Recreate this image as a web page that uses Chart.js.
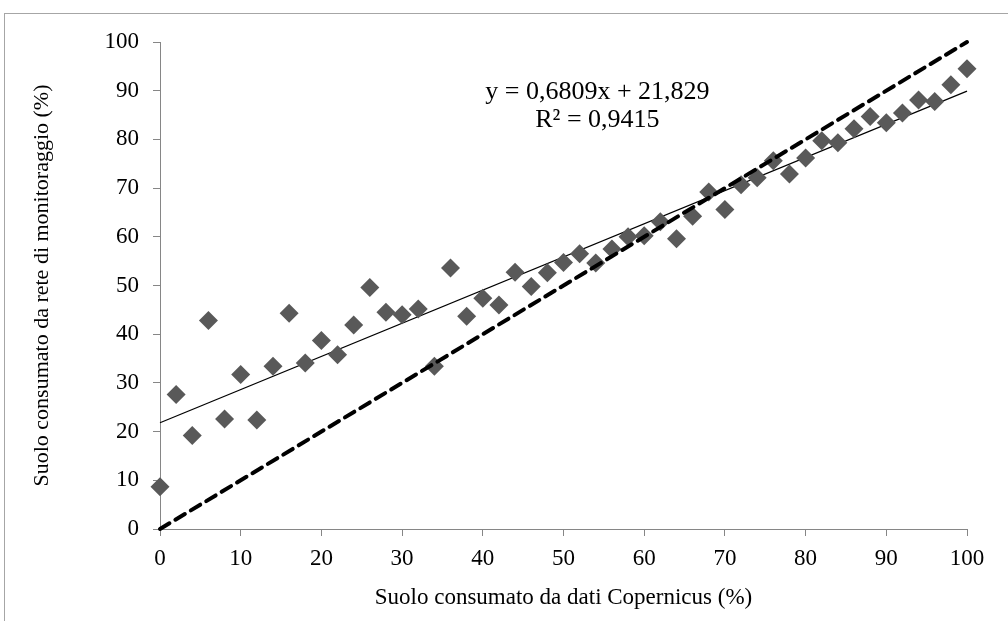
<!DOCTYPE html>
<html>
<head>
<meta charset="utf-8">
<script src="https://cdn.jsdelivr.net/npm/chart.js@4.4.0/dist/chart.umd.min.js"></script>
<style>
  html, body { margin: 0; padding: 0; background: #fff; overflow: hidden; }
  #frame {
    position: absolute; left: 4px; top: 13px;
    width: 1100px; height: 700px;
    border: 1px solid #a6a6a6;
  }
  #wrap { position: absolute; left: 0; top: 0; width: 1008px; height: 621px; }
</style>
</head>
<body>
<div id="frame"></div>
<div id="wrap"><canvas id="chart"></canvas></div>
<script>
// Copernicus (x) vs monitoring network (y), % soil consumed
const copernicus = [0, 2, 4, 6, 8, 10, 12, 14, 16, 18, 20, 22, 24, 26, 28, 30, 32, 34, 36, 38, 40,
    42, 44, 46, 48, 50, 52, 54, 56, 58, 60, 62, 64, 66, 68, 70, 72, 74, 76, 78, 80,
    82, 84, 86, 88, 90, 92, 94, 96, 98, 100];
const monitoraggio = [8.7, 27.6, 19.2, 42.8, 22.6, 31.7, 22.4, 33.4, 44.3, 34.1, 38.7, 35.8, 41.9, 49.6, 44.5, 44.0, 45.2, 33.4, 53.6, 43.7, 47.4,
    46.0, 52.7, 49.8, 52.6, 54.7, 56.5, 54.6, 57.5, 60.0, 60.2, 63.1, 59.6, 64.2, 69.2, 65.6, 70.7, 72.1, 75.6, 72.9, 76.2,
    79.7, 79.3, 82.2, 84.7, 83.4, 85.4, 88.1, 87.8, 91.2, 94.5];

// linear trend (y = 0,6809x + 21,829) end points and the 1:1 line
const trendX = [0, 100];
const trendY = [21.829, 89.919];
const bisX = [0, 100];
const bisY = [0, 100];

const xTicks = [0, 10, 20, 30, 40, 50, 60, 70, 80, 90, 100];
const yTicks = [0, 10, 20, 30, 40, 50, 60, 70, 80, 90, 100];

const equationLines = ["y = 0,6809x + 21,829", "R\u00b2 = 0,9415"];
const equationAt = { x: 54.2, y: [89.8, 84.0] };

const FONT = "'Liberation Serif', 'Times New Roman', serif";
const AXIS_GREY = "#868686";

const toPts = (xs, ys) => xs.map((x, i) => ({ x: x, y: ys[i] }));

// ─── EQUATION LABEL ──────────────────────────────────────────
const equationPlugin = {
    id: "equation",
    afterDatasetsDraw(chart) {
        const { ctx, scales } = chart;
        ctx.save();
        ctx.fillStyle = "#000";
        ctx.font = "26px " + FONT;
        ctx.textAlign = "center";
        ctx.textBaseline = "middle";
        equationLines.forEach((t, i) => {
            ctx.fillText(t, scales.x.getPixelForValue(equationAt.x), scales.y.getPixelForValue(equationAt.y[i]));
        });
        ctx.restore();
    }
};

const ctx = document.getElementById("chart").getContext("2d");
new Chart(ctx, {
    type: "scatter",
    data: {
        datasets: [
            {
                label: "Dati",
                data: toPts(copernicus, monitoraggio),
                pointStyle: "rectRot",
                pointRadius: 9.5,
                pointHoverRadius: 9.5,
                backgroundColor: "#595959",
                borderColor: "#595959",
                borderWidth: 0,
                clip: false,
                order: 1
            },
            {
                type: "line",
                label: "Tendenza",
                data: toPts(trendX, trendY),
                borderColor: "#000",
                borderWidth: 1.2,
                pointRadius: 0,
                fill: false,
                clip: false,
                order: 2
            },
            {
                type: "line",
                label: "1:1",
                data: toPts(bisX, bisY),
                borderColor: "#000",
                borderWidth: 4,
                borderDash: [11, 7],
                borderCapStyle: "round",
                pointRadius: 0,
                fill: false,
                clip: false,
                order: 0
            }
        ]
    },
    options: {
        responsive: true,
        maintainAspectRatio: false,
        animation: false,
        layout: { padding: { top: 42, right: 41, bottom: 0, left: 0 } },
        plugins: {
            legend: { display: false },
            tooltip: { enabled: false }
        },
        scales: {
            x: {
                type: "linear",
                min: 0, max: 100,
                afterBuildTicks: s => { s.ticks = xTicks.map(v => ({ value: v })); },
                afterFit: s => { s.height = 92; },
                ticks: { color: "#000", font: { family: FONT, size: 23 }, padding: 9, maxRotation: 0 },
                grid: { drawOnChartArea: false, drawTicks: true, tickLength: 7, color: AXIS_GREY },
                border: { display: true, color: AXIS_GREY, width: 1 },
                title: {
                    display: true,
                    text: "Suolo consumato da dati Copernicus (%)",
                    color: "#000",
                    font: { family: FONT, size: 23 },
                    padding: { top: 0, bottom: 9 }
                }
            },
            y: {
                type: "linear",
                min: 0, max: 100,
                afterBuildTicks: s => { s.ticks = yTicks.map(v => ({ value: v })); },
                afterFit: s => { s.width = 160; },
                ticks: { color: "#000", font: { family: FONT, size: 23 }, padding: 14 },
                grid: { drawOnChartArea: false, drawTicks: true, tickLength: 7, color: AXIS_GREY },
                border: { display: true, color: AXIS_GREY, width: 1 },
                title: {
                    display: true,
                    text: "Suolo consumato da rete di monitoraggio (%)",
                    color: "#000",
                    font: { family: FONT, size: 22 },
                    padding: { top: 29, bottom: 0 }
                }
            }
        }
    },
    plugins: [equationPlugin]
});
</script>
</body>
</html>
